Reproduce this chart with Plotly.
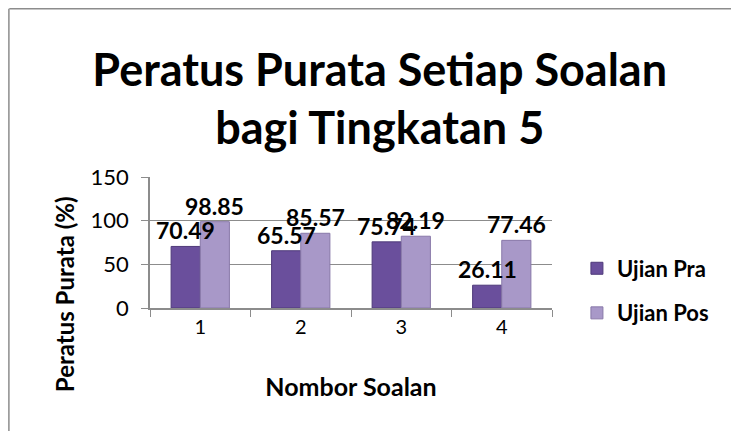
import plotly.graph_objects as go

questions = ["1", "2", "3", "4"]
pra = [70.49, 65.57, 75.74, 26.11]
pos = [98.85, 85.57, 82.19, 77.46]
series_names = ["Ujian Pra", "Ujian Pos"]

FONT = "Lato"
GREY = "#8c8c8c"

fig = go.Figure()
fig.add_trace(go.Bar(
    x=questions, y=pra, name=series_names[0], legendgroup="pra",
    marker=dict(color="#6a4f9c", line=dict(color="#4f3a7a", width=1)),
))
fig.add_trace(go.Bar(
    x=questions, y=pos, name=series_names[1], legendgroup="pos",
    marker=dict(color="#a898c8", line=dict(color="#8878a8", width=1)),
))

# data labels on top of everything (Excel draws them above the bars);
# on a category axis the annotation x is the category index
for vals, shift in ((pra, -14.5), (pos, 14.5)):
    for i, v in enumerate(vals):
        fig.add_annotation(
            x=i, y=v, xshift=shift, yshift=0, yanchor="bottom",
            text=f"{v:.2f}", showarrow=False,
            font=dict(family=FONT, size=23, color="black", weight="bold"),
        )

fig.add_annotation(
    xref="paper", yref="paper", x=-0.211, y=0.107,
    text="Peratus Purata (%)", textangle=-90, showarrow=False,
    xanchor="center", yanchor="middle",
    font=dict(family=FONT, size=24, color="black", weight="bold"),
)

# chart frame (only top and left edges are visible)
fig.add_shape(type="line", xref="paper", yref="paper",
              x0=-0.35, x1=1.6, y0=2.285, y1=2.285,
              line=dict(color=GREY, width=1.5))
fig.add_shape(type="line", xref="paper", yref="paper",
              x0=-0.351, x1=-0.351, y0=-1.2, y1=2.285,
              line=dict(color=GREY, width=1.5))

fig.update_layout(
    width=739, height=431,
    paper_bgcolor="white", plot_bgcolor="white",
    margin=dict(l=142, r=195, t=169, b=131),
    barmode="group", bargap=0.42, bargroupgap=0,
    title=dict(text="Peratus Purata Setiap Soalan<br>bagi Tingkatan 5",
               x=0.503, xanchor="center", y=0.82, yanchor="middle",
               font=dict(family=FONT, size=45, color="black", weight="bold")),
    font=dict(family=FONT, color="black"),
    showlegend=True,
    legend=dict(x=1.062, y=0.13, xanchor="left", yanchor="middle",
                font=dict(family=FONT, size=22, color="black", weight="bold"),
                tracegroupgap=13, traceorder="grouped"),
    xaxis=dict(
        automargin=False,
        title=dict(text="Nombor Soalan", standoff=42,
                   font=dict(family=FONT, size=25, color="black", weight="bold")),
        tickfont=dict(family=FONT, size=20, color="black"),
        showline=True, linecolor=GREY, linewidth=1.5,
        ticks="outside", tickson="boundaries", ticklen=7, tickcolor=GREY,
    ),
    yaxis=dict(
        automargin=False,
        range=[0, 150], dtick=50,
        tickfont=dict(family=FONT, size=22, color="black"),
        ticklabelstandoff=8,
        showgrid=True, gridcolor=GREY, gridwidth=1,
        showline=True, linecolor=GREY, linewidth=1.5,
        ticks="outside", ticklen=7, tickcolor=GREY,
        zeroline=False,
    ),
)

fig.write_html("out.html")
